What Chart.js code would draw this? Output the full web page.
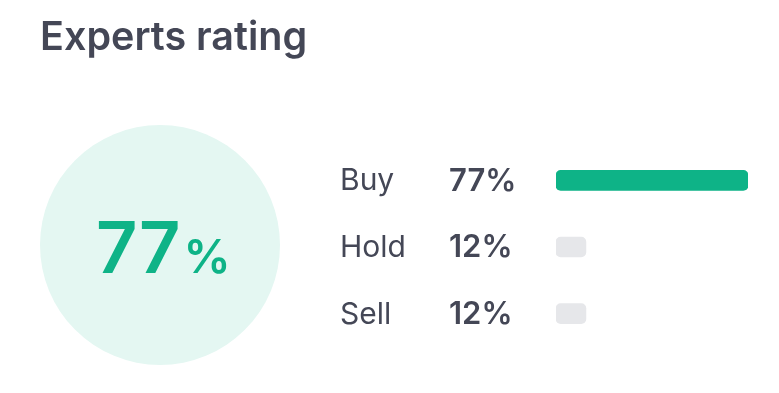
<!DOCTYPE html>
<html>
<head>
<meta charset="utf-8">
<script src="https://cdn.jsdelivr.net/npm/chart.js@4/dist/chart.umd.min.js"></script>
<style>
  html, body { margin: 0; padding: 0; background: #fff; }
  #wrap { width: 779px; height: 393px; position: relative; }
</style>
</head>
<body>
<div id="wrap"><canvas id="rating"></canvas></div>
<script>
const title = 'Experts rating'
const categories = ['Buy', 'Hold', 'Sell']
const ratings = [77, 12, 12]
const score = 77

const green = '#0eb387'
const grey = '#e6e7ea'
const textColor = '#444756'

// circle, title and text labels drawn around the bars
const decor = {
  id: 'decor',
  beforeDraw(chart) {
    const ctx = chart.ctx
    ctx.save()
    ctx.fillStyle = textColor
    ctx.font = '600 39.5px Inter'
    ctx.textBaseline = 'alphabetic'
    ctx.textAlign = 'left'
    ctx.fillText(title, 40, 50)

    ctx.beginPath()
    ctx.arc(160, 245, 120, 0, Math.PI * 2)
    ctx.fillStyle = '#e4f7f2'
    ctx.fill()

    ctx.fillStyle = green
    ctx.font = '600 72px Inter'
    ctx.fillText(String(score), 96, 273)
    const w = ctx.measureText(String(score)).width
    ctx.font = '600 47px Inter'
    ctx.fillText('%', 96 + w + 3, 273)
    ctx.restore()
  },
  afterDraw(chart) {
    const ctx = chart.ctx
    const y = chart.scales.y
    ctx.save()
    ctx.fillStyle = textColor
    ctx.textBaseline = 'middle'
    categories.forEach((c, i) => {
      const py = y.getPixelForValue(i)
      ctx.font = '400 30px Inter'
      ctx.fillText(c, 340, py + 1)
      ctx.font = '600 31px Inter'
      ctx.fillText(ratings[i] + '%', 449, py + 1)
    })
    ctx.restore()
  }
}

const ctx = document.querySelector('#rating')
const ratingChart = new Chart(ctx, {
  type: 'bar',
  data: {
    labels: categories,
    datasets: [{
      data: ratings,
      backgroundColor: ratings.map(v => v === Math.max(...ratings) ? green : grey),
      borderRadius: 5,
      borderSkipped: false,
      barThickness: 20
    }]
  },
  options: {
    indexAxis: 'y',
    responsive: true,
    maintainAspectRatio: false,
    animation: false,
    layout: { padding: { left: 556, right: 31, top: 147, bottom: 46 } },
    scales: {
      x: { display: false, min: 0, max: Math.max(...ratings) },
      y: { display: false }
    },
    plugins: { legend: { display: false }, tooltip: { enabled: false } }
  },
  plugins: [decor]
})
</script>
</body>
</html>
